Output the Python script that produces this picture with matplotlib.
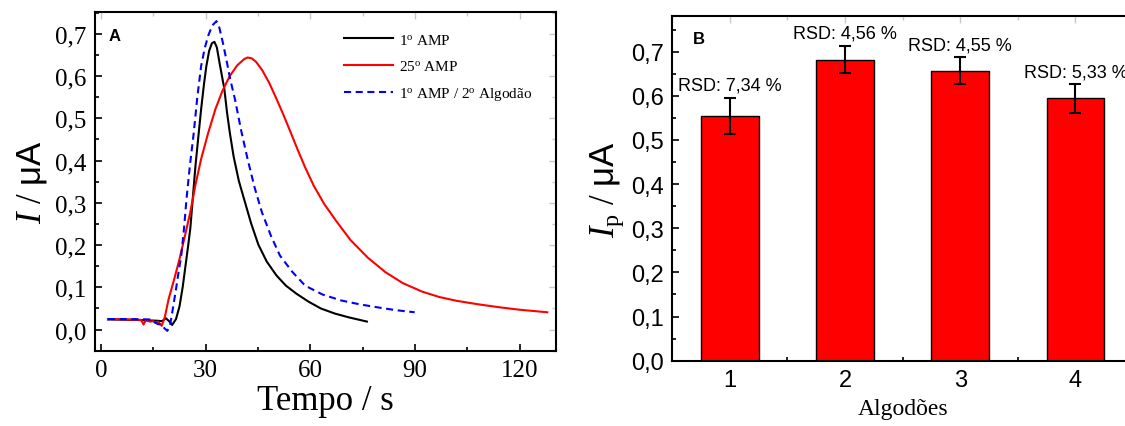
import matplotlib
matplotlib.use("Agg")
import matplotlib.pyplot as plt
import numpy as np
from matplotlib.ticker import MultipleLocator, FuncFormatter

# ---- dados painel A (amperogramas) ----
t_amp1 = [2, 10, 16, 17.5, 18.6, 19.5, 20.4, 21.5, 22.5, 23.4, 24.2, 25.0, 25.6, 26.4, 27.1, 28.0,
          28.7, 29.5, 30.2, 31.0, 31.8, 32.5, 33.2, 34.0, 35.0, 35.3, 36.1, 36.9, 38.0, 39.5, 41.0,
          43.0, 45.1, 47.5, 50.3, 53.0, 56.0, 59.5, 63.0, 67.0, 71.0, 76.2]
i_amp1 = [0.024, 0.023, 0.021, 0.020, 0.027, 0.020, 0.011, 0.025, 0.055, 0.100, 0.150, 0.200, 0.240,
          0.320, 0.390, 0.465, 0.522, 0.580, 0.624, 0.660, 0.678, 0.681, 0.668, 0.630, 0.585, 0.573,
          0.515, 0.467, 0.410, 0.352, 0.309, 0.252, 0.201, 0.161, 0.128, 0.104, 0.085, 0.066, 0.050,
          0.038, 0.029, 0.019]

t_amp25 = [2, 8, 11.5, 12.2, 12.8, 14, 15, 15.6, 16.3, 17.4, 18.3, 19.4, 21.0, 22.5, 24.0, 25.6,
           27.0, 28.7, 30.7, 32.8, 34.8, 36.9, 39.0, 41.0, 42.0, 43.2, 44.4, 46.2, 48.2, 50.3, 52.3,
           54.3, 56.4, 58.5, 61.0, 64.0, 67.5, 71.5, 76.5, 81.5, 86.5, 92.0, 97.0, 102.0, 108.0,
           114.0, 120.0, 127.9]
i_amp25 = [0.025, 0.024, 0.023, 0.012, 0.022, 0.019, 0.020, 0.016, 0.019, 0.009, 0.030, 0.073,
           0.120, 0.167, 0.220, 0.278, 0.340, 0.404, 0.465, 0.522, 0.565, 0.600, 0.625, 0.640, 0.644,
           0.642, 0.634, 0.614, 0.584, 0.546, 0.508, 0.468, 0.425, 0.384, 0.340, 0.297, 0.256,
           0.212, 0.170, 0.136, 0.110, 0.090, 0.077, 0.068, 0.060, 0.053, 0.047, 0.041]

t_alg2 = [2, 8, 14, 16.3, 17.3, 18.2, 19.0, 19.8, 20.6, 21.5, 22.3, 23.0, 23.8, 24.5, 25.5, 26.6,
          27.6, 28.7, 29.7, 30.7, 31.9, 33.1, 33.9, 34.9, 35.9, 37.1, 38.4, 40.2, 42.0, 44.0, 46.1,
          48.7, 51.3, 54.8, 58.5, 63.5, 68.8, 74.0, 79.0, 84.5, 89.9]
i_alg2 = [0.025, 0.025, 0.024, 0.013, 0.012, 0.003, -0.003, 0.010, 0.050, 0.096, 0.140, 0.175,
          0.240, 0.309, 0.390, 0.467, 0.550, 0.624, 0.665, 0.695, 0.720, 0.730, 0.715, 0.680, 0.640,
          0.590, 0.545, 0.470, 0.404, 0.337, 0.278, 0.222, 0.175, 0.137, 0.104, 0.083, 0.069, 0.060,
          0.053, 0.046, 0.041]

# ---- dados painel B (barras) ----
algodoes = [1, 2, 3, 4]
ip = [0.554, 0.682, 0.657, 0.594]
ip_err = [0.041, 0.031, 0.030, 0.032]
rsd = ["RSD: 7,34 %", "RSD: 4,56 %", "RSD: 4,55 %", "RSD: 5,33 %"]

plt.rcParams["mathtext.fontset"] = "custom"
plt.rcParams["mathtext.rm"] = "Liberation Serif"
plt.rcParams["mathtext.it"] = "Liberation Serif:italic"
plt.rcParams["mathtext.sf"] = "Liberation Sans"

virgula = FuncFormatter(lambda v, p: ("%.1f" % v).replace(".", ","))


def espelho(ax, xmaj, xmin, ymaj, ymin):
    # ticks clarinhos no topo e na direita, como no original
    sx = ax.secondary_xaxis("top")
    sx.xaxis.set_major_locator(xmaj)
    sx.xaxis.set_minor_locator(xmin)
    sx.tick_params(which="both", direction="in", labeltop=False, color="#c8c8c8", width=1.0)
    sx.tick_params(which="major", length=5)
    sx.tick_params(which="minor", length=3)
    sx.spines["top"].set_visible(False)
    sy = ax.secondary_yaxis("right")
    sy.yaxis.set_major_locator(ymaj)
    sy.yaxis.set_minor_locator(ymin)
    sy.tick_params(which="both", direction="in", labelright=False, color="#c8c8c8", width=1.0)
    sy.tick_params(which="major", length=5)
    sy.tick_params(which="minor", length=3)
    sy.spines["right"].set_visible(False)


fig = plt.figure(figsize=(11.25, 4.27), dpi=100)

# ----------------- painel A -----------------
axA = fig.add_axes([0.0842, 0.1763, 0.4097, 0.7926])
axA.plot(t_amp1, i_amp1, color="black", lw=1.5, label=r"1$^{\mathrm{o}}$ AMP")
axA.plot(t_amp25, i_amp25, color="#ff0000", lw=1.5, label=r"25$^{\mathrm{o}}$ AMP")
axA.plot(t_alg2, i_alg2, color="#0000ff", lw=1.5, linestyle=(0, (3.4, 2.2)),
         label=r"1$^{\mathrm{o}}$ AMP / 2$^{\mathrm{o}}$ Algodão")
axA.set_xlim(-1.8, 130.3)
axA.set_ylim(-0.05, 0.751)
axA.xaxis.set_major_locator(MultipleLocator(30))
axA.xaxis.set_minor_locator(MultipleLocator(15))
axA.yaxis.set_major_locator(MultipleLocator(0.1))
axA.yaxis.set_minor_locator(MultipleLocator(0.05))
axA.yaxis.set_major_formatter(virgula)
axA.tick_params(which="both", direction="in", width=1.2)
axA.tick_params(which="major", length=5, labelsize=18, pad=6)
axA.tick_params(which="minor", length=3)
for lb in axA.get_xticklabels() + axA.get_yticklabels():
    lb.set_fontfamily("Liberation Serif")
for s in axA.spines.values():
    s.set_linewidth(1.5)
espelho(axA, MultipleLocator(30), MultipleLocator(15), MultipleLocator(0.1), MultipleLocator(0.05))
axA.set_xlabel("Tempo / s", fontsize=25, family="Liberation Serif", labelpad=2)
axA.set_ylabel(r"$\mathit{I}$ / $\mathsf{μA}$", fontsize=25, family="Liberation Serif", labelpad=4)
axA.text(0.03, 0.93, "A", transform=axA.transAxes, fontsize=12, fontweight="bold",
         family="Liberation Sans", va="center")
leg = axA.legend(loc="upper right", bbox_to_anchor=(0.98, 0.98), frameon=False,
                 prop={"family": "Liberation Serif", "size": 11}, handlelength=3.2,
                 labelspacing=0.8, handletextpad=0.4)

# ----------------- painel B -----------------
axB = fig.add_axes([0.5976, 0.1529, 0.4095, 0.8066])
axB.bar(algodoes, ip, width=0.5, color="#ff0000", edgecolor="black", linewidth=1.0, zorder=2)
axB.errorbar(algodoes, ip, yerr=ip_err, fmt="none", ecolor="black", elinewidth=1.5,
             capsize=4, capthick=1.5, zorder=3)
for x, v, e, s in zip(algodoes, ip, ip_err, rsd):
    axB.annotate(s, (x, v + e), xytext=(0, 3), textcoords="offset points",
                 ha="center", va="bottom", fontsize=13, family="Liberation Sans")
axB.set_xlim(0.5, 4.5)
axB.set_ylim(0, 0.78)
axB.set_xticks(algodoes)
axB.xaxis.set_minor_locator(MultipleLocator(0.5))
axB.yaxis.set_major_locator(MultipleLocator(0.1))
axB.yaxis.set_minor_locator(MultipleLocator(0.05))
axB.yaxis.set_major_formatter(virgula)
axB.tick_params(which="both", direction="in", width=1.2)
axB.tick_params(which="major", length=5, labelsize=17, pad=6)
axB.tick_params(which="minor", length=3)
for lb in axB.get_xticklabels() + axB.get_yticklabels():
    lb.set_fontfamily("Liberation Sans")
for s in axB.spines.values():
    s.set_linewidth(1.5)
espelho(axB, MultipleLocator(1), MultipleLocator(0.5), MultipleLocator(0.1), MultipleLocator(0.05))
axB.set_xlabel("Algodões", fontsize=17, family="Liberation Serif", labelpad=5)
axB.set_ylabel(r"$\mathit{I}_{\mathrm{p}}$ / $\mathsf{μA}$", fontsize=25,
               family="Liberation Serif", labelpad=4)
axB.text(0.045, 0.935, "B", transform=axB.transAxes, fontsize=12, fontweight="bold",
         family="Liberation Sans", va="center")

fig.savefig("out.png", dpi=100)
